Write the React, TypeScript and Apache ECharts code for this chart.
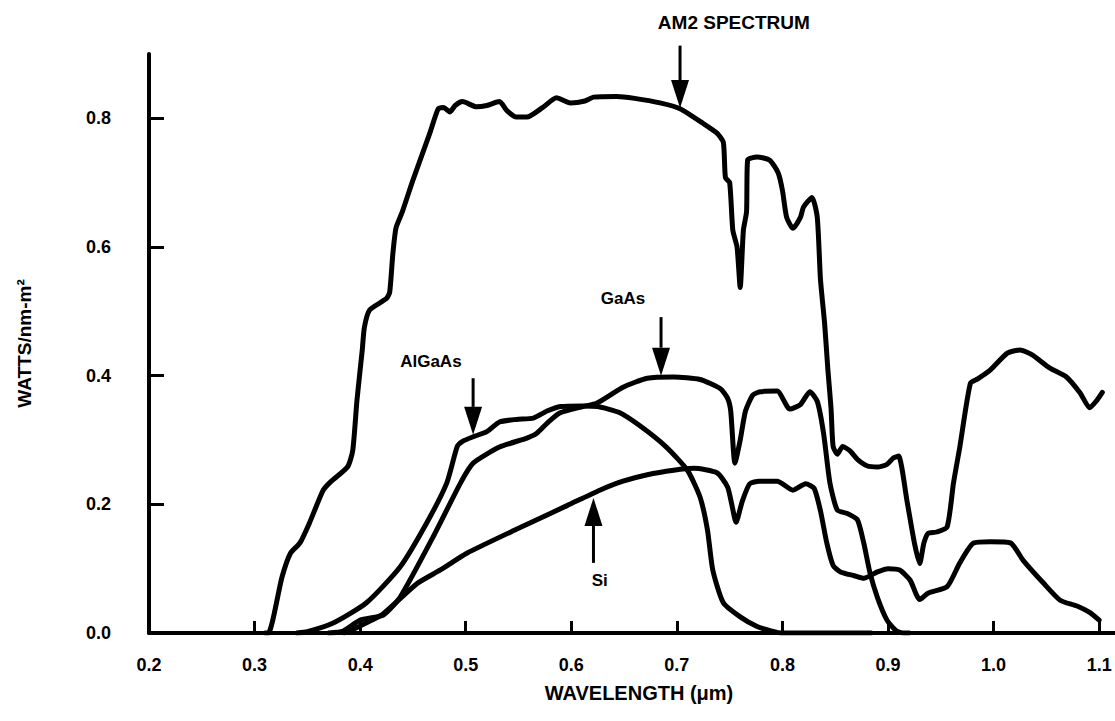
import React, { useEffect, useRef } from "react";
import * as echarts from "echarts";

// Axis ticks
const xTickValues = [0.2, 0.3, 0.4, 0.5, 0.6, 0.7, 0.8, 0.9, 1.0, 1.1];
const xTickMarks = [0.3, 0.4, 0.5, 0.6, 0.7, 0.8, 0.9, 1.0, 1.1];
const yTickValues = [0.0, 0.2, 0.4, 0.6, 0.8];
const yTickMarks = [0.2, 0.4, 0.6, 0.8];

// AM2 solar spectrum (wavelength µm, W/nm-m²)
const am2Spectrum: [number, number][] = [
  [0.31, 0], [0.313, 0.0], [0.326, 0.087], [0.334, 0.124], [0.343, 0.14], [0.352, 0.171],
  [0.365, 0.222], [0.372, 0.235], [0.388, 0.258], [0.393, 0.284], [0.397, 0.362], [0.402, 0.44],
  [0.404, 0.475], [0.409, 0.502], [0.425, 0.52], [0.428, 0.53], [0.431, 0.59], [0.434, 0.63],
  [0.44, 0.655], [0.45, 0.704], [0.466, 0.777], [0.474, 0.815], [0.479, 0.817], [0.485, 0.81],
  [0.49, 0.82], [0.497, 0.826], [0.51, 0.818], [0.52, 0.82], [0.532, 0.826], [0.539, 0.812],
  [0.548, 0.802], [0.558, 0.802], [0.573, 0.817], [0.586, 0.832], [0.599, 0.824], [0.613, 0.827],
  [0.621, 0.833], [0.643, 0.834], [0.66, 0.831], [0.684, 0.824], [0.703, 0.815], [0.725, 0.792],
  [0.738, 0.777], [0.744, 0.763], [0.746, 0.708], [0.75, 0.70], [0.753, 0.626], [0.757, 0.60],
  [0.76, 0.537], [0.763, 0.626], [0.766, 0.655], [0.767, 0.735], [0.776, 0.74], [0.788, 0.735],
  [0.796, 0.715], [0.8, 0.688], [0.804, 0.646], [0.81, 0.629], [0.817, 0.646], [0.82, 0.662],
  [0.828, 0.677], [0.833, 0.646], [0.836, 0.55], [0.84, 0.48], [0.843, 0.41], [0.846, 0.35],
  [0.848, 0.29], [0.852, 0.278], [0.857, 0.29], [0.864, 0.283], [0.871, 0.27], [0.88, 0.26],
  [0.89, 0.258], [0.899, 0.262], [0.905, 0.272], [0.91, 0.275], [0.918, 0.205], [0.925, 0.14],
  [0.93, 0.108], [0.934, 0.14], [0.938, 0.155], [0.946, 0.157], [0.956, 0.165], [0.962, 0.233],
  [0.968, 0.289], [0.978, 0.388], [0.985, 0.395], [0.997, 0.409], [1.013, 0.435], [1.025, 0.44],
  [1.037, 0.432], [1.053, 0.412], [1.069, 0.398], [1.082, 0.373], [1.091, 0.35], [1.098, 0.362],
  [1.103, 0.374],
];

// AlGaAs cell response
const alGaAs: [number, number][] = [
  [0.34, 0], [0.35, 0.002], [0.374, 0.015], [0.406, 0.047], [0.438, 0.103], [0.463, 0.171],
  [0.482, 0.233], [0.492, 0.29], [0.497, 0.298], [0.507, 0.305], [0.52, 0.313], [0.532, 0.328],
  [0.548, 0.332], [0.564, 0.334], [0.577, 0.345], [0.59, 0.352], [0.61, 0.353], [0.625, 0.352],
  [0.645, 0.343], [0.665, 0.322], [0.69, 0.289], [0.71, 0.253], [0.722, 0.211], [0.729, 0.16],
  [0.734, 0.098], [0.744, 0.047], [0.76, 0.025], [0.776, 0.01], [0.79, 0.003], [0.8, 0], [0.884, 0],
];

// GaAs cell response
const gaAs: [number, number][] = [
  [0.37, 0], [0.384, 0.003], [0.4, 0.02], [0.422, 0.028], [0.438, 0.056], [0.469, 0.149],
  [0.495, 0.233], [0.507, 0.264], [0.532, 0.289], [0.558, 0.303], [0.567, 0.31], [0.577, 0.326],
  [0.589, 0.342], [0.611, 0.352], [0.624, 0.357], [0.649, 0.382], [0.672, 0.396], [0.697, 0.398],
  [0.722, 0.394], [0.741, 0.38], [0.748, 0.365], [0.751, 0.345], [0.755, 0.264], [0.76, 0.30],
  [0.765, 0.345], [0.772, 0.37], [0.779, 0.375], [0.795, 0.376], [0.807, 0.348], [0.817, 0.355],
  [0.826, 0.375], [0.833, 0.36], [0.839, 0.31], [0.845, 0.233], [0.852, 0.191], [0.861, 0.186],
  [0.871, 0.176], [0.877, 0.14], [0.883, 0.093], [0.89, 0.055], [0.899, 0.02], [0.908, 0.003],
  [0.915, 0], [0.92, 0],
];

// Si cell response
const si: [number, number][] = [
  [0.385, 0], [0.39, 0.003], [0.405, 0.015], [0.422, 0.03], [0.454, 0.077], [0.476, 0.098],
  [0.501, 0.124], [0.549, 0.162], [0.596, 0.198], [0.627, 0.222], [0.649, 0.236], [0.672, 0.246],
  [0.697, 0.253], [0.716, 0.256], [0.738, 0.249], [0.748, 0.227], [0.752, 0.20], [0.756, 0.172],
  [0.762, 0.205], [0.769, 0.232], [0.778, 0.236], [0.795, 0.236], [0.81, 0.222], [0.822, 0.232],
  [0.83, 0.225], [0.836, 0.19], [0.842, 0.14], [0.848, 0.105], [0.855, 0.095], [0.868, 0.089],
  [0.877, 0.085], [0.89, 0.095], [0.9, 0.1], [0.911, 0.098], [0.921, 0.082], [0.93, 0.052],
  [0.938, 0.062], [0.956, 0.072], [0.968, 0.109], [0.981, 0.14], [0.997, 0.142], [1.016, 0.14],
  [1.028, 0.113], [1.047, 0.078], [1.063, 0.051], [1.079, 0.042], [1.091, 0.032], [1.1, 0.02],
];

// Annotations (data units)
const annotationLabels = ["AM2 SPECTRUM", "GaAs", "AlGaAs", "Si"];
const arrowX = [0.703, 0.685, 0.507, 0.621];
const arrowTip = [0.816, 0.4, 0.308, 0.21];
const arrowTail = [0.913, 0.491, 0.396, 0.109];
const labelX = [0.682, 0.649, 0.467, 0.627];
const labelY = [0.949, 0.52, 0.4225, 0.082];
const labelAlign = ["left", "center", "center", "center"];
const labelSize = [19, 17, 17, 17];

const FONT = "'Liberation Sans', 'DejaVu Sans', sans-serif";

export default function App() {
  const ref = useRef<HTMLDivElement>(null);
  useEffect(() => {
    if (!ref.current) return;
    const chart = echarts.init(ref.current, null, { renderer: "svg" });
    const lineSeries = (name: string, data: [number, number][]) => ({
      name,
      type: "line",
      data,
      showSymbol: false,
      smooth: 0.2,
      silent: true,
      lineStyle: { color: "#000", width: 5, cap: "round", join: "round" },
      z: 3,
    });
    chart.setOption({
      animation: false,
      backgroundColor: "#fff",
      grid: { left: 149, right: 0, top: 54, bottom: 88 },
      xAxis: {
        type: "value",
        min: 0.2,
        max: 1.115,
        name: "WAVELENGTH (\u03bcm)",
        nameLocation: "middle",
        nameGap: 50,
        nameTextStyle: { fontFamily: FONT, fontWeight: "bold", fontSize: 20, color: "#000", padding: [0, 0, 0, 14] },
        axisLine: { lineStyle: { color: "#000", width: 4 } },
        axisTick: { inside: true, length: 12, lineStyle: { color: "#000", width: 3 }, customValues: xTickMarks },
        axisLabel: {
          customValues: xTickValues,
          formatter: (v: number) => v.toFixed(1),
          margin: 23,
          fontFamily: FONT,
          fontWeight: "bold",
          fontSize: 18,
          color: "#000",
        },
        splitLine: { show: false },
      },
      yAxis: {
        type: "value",
        min: 0,
        max: 0.9,
        name: "WATTS/nm-m\u00b2",
        nameLocation: "middle",
        nameRotate: 90,
        nameGap: 115,
        nameTextStyle: { fontFamily: FONT, fontWeight: "bold", fontSize: 19, color: "#000" },
        axisLine: { lineStyle: { color: "#000", width: 4 } },
        axisTick: { inside: true, length: 15, lineStyle: { color: "#000", width: 3 }, customValues: yTickMarks },
        axisLabel: {
          customValues: yTickValues,
          formatter: (v: number) => v.toFixed(1),
          margin: 38,
          fontFamily: FONT,
          fontWeight: "bold",
          fontSize: 18,
          color: "#000",
        },
        splitLine: { show: false },
      },
      series: [
        lineSeries("AM2 SPECTRUM", am2Spectrum),
        lineSeries("AlGaAs", alGaAs),
        lineSeries("GaAs", gaAs),
        lineSeries("Si", si),
        {
          type: "custom",
          coordinateSystem: "cartesian2d",
          clip: false,
          silent: true,
          z: 5,
          data: annotationLabels.map((_, i) => [arrowX[i], arrowTip[i], arrowTail[i], labelX[i], labelY[i]]),
          renderItem: (params: any, api: any) => {
            const i = params.dataIndex;
            const tip = api.coord([api.value(0), api.value(1)]);
            const tail = api.coord([api.value(0), api.value(2)]);
            const lab = api.coord([api.value(3), api.value(4)]);
            const dir = tail[1] < tip[1] ? 1 : -1;
            const headLen = 28;
            const headW = 9;
            const baseY = tip[1] - dir * headLen;
            return {
              type: "group",
              children: [
                {
                  type: "line",
                  shape: { x1: tail[0], y1: tail[1], x2: tip[0], y2: baseY },
                  style: { stroke: "#000", lineWidth: 3 },
                },
                {
                  type: "polygon",
                  shape: { points: [[tip[0], tip[1]], [tip[0] - headW, baseY], [tip[0] + headW, baseY]] },
                  style: { fill: "#000" },
                },
                {
                  type: "text",
                  x: lab[0],
                  y: lab[1],
                  style: {
                    text: annotationLabels[i],
                    fontFamily: FONT,
                    fontWeight: "bold",
                    fontSize: labelSize[i],
                    fill: "#000",
                    align: labelAlign[i],
                    verticalAlign: "middle",
                  },
                },
              ],
            };
          },
        },
      ],
    });
    return () => chart.dispose();
  }, []);
  return (
    <div
      ref={ref}
      style={{ position: "fixed", left: 0, top: 0, width: 1115, height: 721, background: "#fff" }}
    />
  );
}
